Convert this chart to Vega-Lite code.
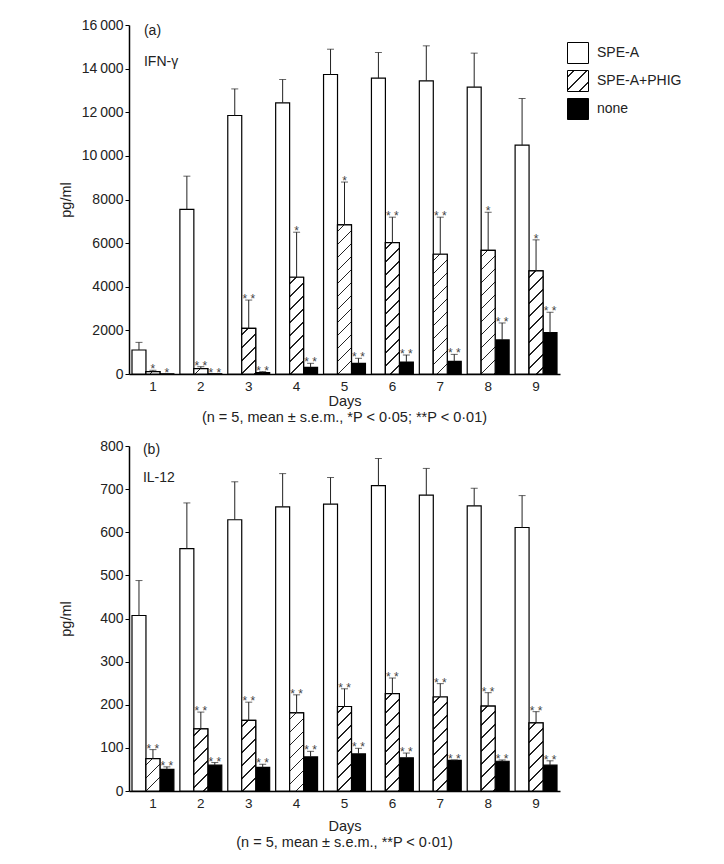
{
  "$schema": "https://vega.github.io/schema/vega-lite/v6.json",
  "padding": {"left": 58, "top": 18, "right": 5, "bottom": 5},
  "spacing": 14,
  "params": [
    {"name": "hatchStops", "value": [
      {"offset": 0, "color": "white"},
      {"offset": 0.03373, "color": "white"}, {"offset": 0.03373, "color": "#222"}, {"offset": 0.04319, "color": "#222"}, {"offset": 0.04319, "color": "white"},
      {"offset": 0.11065, "color": "white"}, {"offset": 0.11065, "color": "#222"}, {"offset": 0.12011, "color": "#222"}, {"offset": 0.12011, "color": "white"},
      {"offset": 0.18758, "color": "white"}, {"offset": 0.18758, "color": "#222"}, {"offset": 0.19704, "color": "#222"}, {"offset": 0.19704, "color": "white"},
      {"offset": 0.2645, "color": "white"}, {"offset": 0.2645, "color": "#222"}, {"offset": 0.27396, "color": "#222"}, {"offset": 0.27396, "color": "white"},
      {"offset": 0.34142, "color": "white"}, {"offset": 0.34142, "color": "#222"}, {"offset": 0.35088, "color": "#222"}, {"offset": 0.35088, "color": "white"},
      {"offset": 0.41835, "color": "white"}, {"offset": 0.41835, "color": "#222"}, {"offset": 0.42781, "color": "#222"}, {"offset": 0.42781, "color": "white"},
      {"offset": 0.49527, "color": "white"}, {"offset": 0.49527, "color": "#222"}, {"offset": 0.50473, "color": "#222"}, {"offset": 0.50473, "color": "white"},
      {"offset": 0.57219, "color": "white"}, {"offset": 0.57219, "color": "#222"}, {"offset": 0.58165, "color": "#222"}, {"offset": 0.58165, "color": "white"},
      {"offset": 0.64912, "color": "white"}, {"offset": 0.64912, "color": "#222"}, {"offset": 0.65858, "color": "#222"}, {"offset": 0.65858, "color": "white"},
      {"offset": 0.72604, "color": "white"}, {"offset": 0.72604, "color": "#222"}, {"offset": 0.7355, "color": "#222"}, {"offset": 0.7355, "color": "white"},
      {"offset": 0.80296, "color": "white"}, {"offset": 0.80296, "color": "#222"}, {"offset": 0.81242, "color": "#222"}, {"offset": 0.81242, "color": "white"},
      {"offset": 0.87989, "color": "white"}, {"offset": 0.87989, "color": "#222"}, {"offset": 0.88935, "color": "#222"}, {"offset": 0.88935, "color": "white"},
      {"offset": 0.95681, "color": "white"}, {"offset": 0.95681, "color": "#222"}, {"offset": 0.96627, "color": "#222"}, {"offset": 0.96627, "color": "white"},
      {"offset": 1, "color": "white"}
    ]}
  ],
  "datasets": {
    "ifn": [
      {"day": "1", "series": "SPE-A", "mean": 1100, "upper": 1450, "sig": ""},
      {"day": "1", "series": "SPE-A+PHIG", "mean": 110, "upper": 170, "sig": "*"},
      {"day": "1", "series": "none", "mean": 10, "upper": 20, "sig": "*"},
      {"day": "2", "series": "SPE-A", "mean": 7550, "upper": 9070, "sig": ""},
      {"day": "2", "series": "SPE-A+PHIG", "mean": 245, "upper": 335, "sig": "**"},
      {"day": "2", "series": "none", "mean": 10, "upper": 20, "sig": "**"},
      {"day": "3", "series": "SPE-A", "mean": 11850, "upper": 13070, "sig": ""},
      {"day": "3", "series": "SPE-A+PHIG", "mean": 2095, "upper": 3390, "sig": "**"},
      {"day": "3", "series": "none", "mean": 60, "upper": 110, "sig": "**"},
      {"day": "4", "series": "SPE-A", "mean": 12430, "upper": 13500, "sig": ""},
      {"day": "4", "series": "SPE-A+PHIG", "mean": 4435, "upper": 6500, "sig": "*"},
      {"day": "4", "series": "none", "mean": 307, "upper": 490, "sig": "**"},
      {"day": "5", "series": "SPE-A", "mean": 13730, "upper": 14890, "sig": ""},
      {"day": "5", "series": "SPE-A+PHIG", "mean": 6835, "upper": 8800, "sig": "*"},
      {"day": "5", "series": "none", "mean": 490, "upper": 720, "sig": "**"},
      {"day": "6", "series": "SPE-A", "mean": 13560, "upper": 14740, "sig": ""},
      {"day": "6", "series": "SPE-A+PHIG", "mean": 6025, "upper": 7190, "sig": "**"},
      {"day": "6", "series": "none", "mean": 550, "upper": 870, "sig": "**"},
      {"day": "7", "series": "SPE-A", "mean": 13440, "upper": 15045, "sig": ""},
      {"day": "7", "series": "SPE-A+PHIG", "mean": 5490, "upper": 7190, "sig": "**"},
      {"day": "7", "series": "none", "mean": 580, "upper": 900, "sig": "**"},
      {"day": "8", "series": "SPE-A", "mean": 13150, "upper": 14710, "sig": ""},
      {"day": "8", "series": "SPE-A+PHIG", "mean": 5670, "upper": 7415, "sig": "*"},
      {"day": "8", "series": "none", "mean": 1560, "upper": 2340, "sig": "**"},
      {"day": "9", "series": "SPE-A", "mean": 10490, "upper": 12630, "sig": ""},
      {"day": "9", "series": "SPE-A+PHIG", "mean": 4725, "upper": 6150, "sig": "*"},
      {"day": "9", "series": "none", "mean": 1895, "upper": 2830, "sig": "**"}
    ],
    "il12": [
      {"day": "1", "series": "SPE-A", "mean": 407, "upper": 488, "sig": ""},
      {"day": "1", "series": "SPE-A+PHIG", "mean": 75, "upper": 96, "sig": "**"},
      {"day": "1", "series": "none", "mean": 50, "upper": 56, "sig": "**"},
      {"day": "2", "series": "SPE-A", "mean": 562, "upper": 668, "sig": ""},
      {"day": "2", "series": "SPE-A+PHIG", "mean": 144, "upper": 183, "sig": "**"},
      {"day": "2", "series": "none", "mean": 60, "upper": 66, "sig": "**"},
      {"day": "3", "series": "SPE-A", "mean": 629, "upper": 717, "sig": ""},
      {"day": "3", "series": "SPE-A+PHIG", "mean": 164, "upper": 206, "sig": "**"},
      {"day": "3", "series": "none", "mean": 55, "upper": 62, "sig": "**"},
      {"day": "4", "series": "SPE-A", "mean": 659, "upper": 736, "sig": ""},
      {"day": "4", "series": "SPE-A+PHIG", "mean": 181, "upper": 223, "sig": "**"},
      {"day": "4", "series": "none", "mean": 79, "upper": 92, "sig": "**"},
      {"day": "5", "series": "SPE-A", "mean": 665, "upper": 727, "sig": ""},
      {"day": "5", "series": "SPE-A+PHIG", "mean": 196, "upper": 237, "sig": "**"},
      {"day": "5", "series": "none", "mean": 86, "upper": 99, "sig": "**"},
      {"day": "6", "series": "SPE-A", "mean": 708, "upper": 771, "sig": ""},
      {"day": "6", "series": "SPE-A+PHIG", "mean": 226, "upper": 262, "sig": "**"},
      {"day": "6", "series": "none", "mean": 77, "upper": 88, "sig": "**"},
      {"day": "7", "series": "SPE-A", "mean": 686, "upper": 748, "sig": ""},
      {"day": "7", "series": "SPE-A+PHIG", "mean": 218, "upper": 249, "sig": "**"},
      {"day": "7", "series": "none", "mean": 71, "upper": 72, "sig": "**"},
      {"day": "8", "series": "SPE-A", "mean": 661, "upper": 702, "sig": ""},
      {"day": "8", "series": "SPE-A+PHIG", "mean": 197, "upper": 228, "sig": "**"},
      {"day": "8", "series": "none", "mean": 69, "upper": 72, "sig": "**"},
      {"day": "9", "series": "SPE-A", "mean": 611, "upper": 685, "sig": ""},
      {"day": "9", "series": "SPE-A+PHIG", "mean": 158, "upper": 184, "sig": "**"},
      {"day": "9", "series": "none", "mean": 60, "upper": 70, "sig": "**"}
    ]
  },
  "resolve": {"scale": {"fill": "independent"}, "legend": {"fill": "independent"}},
  "config": {
    "font": "Liberation Sans",
    "view": {"stroke": null},
    "axis": {"domainColor": "black", "domainWidth": 1.5, "labelColor": "#222", "titleColor": "#222", "labelFont": "Liberation Sans", "titleFont": "Liberation Sans", "grid": false, "tickColor": "black", "titleFontWeight": "normal"},
    "axisX": {"ticks": false, "labelAngle": 0, "labelFontSize": 13.5, "titleFontSize": 14.5},
    "axisY": {"tickSize": 4, "labelFontSize": 14, "titleFontSize": 14.5, "labelPadding": 2, "titleX": -63, "titleBaseline": "middle"},
    "title": {"fontSize": 14.5, "fontWeight": "normal", "color": "#222", "font": "Liberation Sans"},
    "text": {"font": "Liberation Sans"}
  },
  "vconcat": [
    {
      "width": 431,
      "height": 349,
      "data": {"name": "ifn"},
      "title": {"text": "(n = 5, mean ± s.e.m., *P < 0·05; **P < 0·01)", "orient": "bottom", "anchor": "middle", "offset": 3},
      "layer": [
        {
          "mark": {"type": "bar", "stroke": "black", "strokeWidth": 1.2},
          "encoding": {
            "x": {"field": "day", "type": "ordinal", "scale": {"paddingInner": 0.125, "paddingOuter": 0.0625}, "axis": {"title": "Days", "titlePadding": 2, "labelPadding": 5}},
            "xOffset": {"field": "series", "type": "nominal", "scale": {"domain": ["SPE-A", "SPE-A+PHIG", "none"], "paddingInner": 0, "paddingOuter": 0}},
            "y": {"field": "mean", "type": "quantitative", "scale": {"domain": [0, 16000], "nice": false}, "axis": {"title": "pg/ml", "values": [0, 2000, 4000, 6000, 8000, 10000, 12000, 14000, 16000], "labelExpr": "datum.value >= 10000 ? replace(format(datum.value, ','), ',', '\u2009') : format(datum.value, 'd')"}},
            "fill": {"field": "series", "type": "nominal", "scale": {"domain": ["SPE-A", "SPE-A+PHIG", "none"], "range": ["white", {"expr": "{gradient: 'linear', x1: 0, y1: 0, x2: 4.024, y2: 4.024, stops: hatchStops}"}, "black"]},
              "legend": {"orient": "none", "legendX": 438, "legendY": 17, "title": null, "padding": 0, "symbolType": "square", "symbolSize": 441, "symbolStrokeColor": "black", "symbolStrokeWidth": 1, "labelFontSize": 14, "labelColor": "#222", "labelFont": "Liberation Sans", "labelOffset": 8, "rowPadding": 2}}
          }
        },
        {
          "transform": [{"filter": "datum.series === 'SPE-A+PHIG'"}],
          "mark": {"type": "bar", "stroke": "black", "strokeWidth": 1.2, "fill": {"expr": "{gradient: 'linear', x1: 0, y1: 0, x2: 2366/(196+pow(datum.mean*0.0218125,2)), y2: 169*datum.mean*0.0218125/(196+pow(datum.mean*0.0218125,2)), stops: hatchStops}"}},
          "encoding": {
            "x": {"field": "day", "type": "ordinal"},
            "xOffset": {"field": "series", "type": "nominal"},
            "y": {"field": "mean", "type": "quantitative"}
          }
        },
        {
          "mark": {"type": "rule", "color": "#222", "strokeWidth": 1},
          "encoding": {
            "x": {"field": "day", "type": "ordinal"},
            "xOffset": {"field": "series", "type": "nominal"},
            "y": {"field": "mean", "type": "quantitative"},
            "y2": {"field": "upper"}
          }
        },
        {
          "mark": {"type": "tick", "color": "#222", "size": 7, "thickness": 1},
          "encoding": {
            "x": {"field": "day", "type": "ordinal"},
            "xOffset": {"field": "series", "type": "nominal"},
            "y": {"field": "upper", "type": "quantitative"}
          }
        },
        {
          "transform": [{"calculate": "replace(datum.sig, '**', '* *')", "as": "starLabel"}],
          "mark": {"type": "text", "fontSize": 12, "color": "#444", "baseline": "alphabetic", "dy": 3},
          "encoding": {
            "x": {"field": "day", "type": "ordinal"},
            "xOffset": {"field": "series", "type": "nominal"},
            "y": {"field": "upper", "type": "quantitative"},
            "text": {"field": "starLabel"}
          }
        },
        {
          "data": {"values": [{"day": "1", "v": 15725, "label": "(a)"}, {"day": "1", "v": 14300, "label": "IFN-γ"}]},
          "mark": {"type": "text", "fontSize": 14, "color": "#222", "align": "left", "baseline": "middle", "dx": -9},
          "encoding": {
            "x": {"field": "day", "type": "ordinal"},
            "y": {"field": "v", "type": "quantitative"},
            "text": {"field": "label"}
          }
        }
      ]
    },
    {
      "width": 431,
      "height": 345,
      "data": {"name": "il12"},
      "title": {"text": "(n = 5, mean ± s.e.m., **P < 0·01)", "orient": "bottom", "anchor": "middle", "offset": 3},
      "layer": [
        {
          "mark": {"type": "bar", "stroke": "black", "strokeWidth": 1.2},
          "encoding": {
            "x": {"field": "day", "type": "ordinal", "scale": {"paddingInner": 0.125, "paddingOuter": 0.0625}, "axis": {"title": "Days", "titlePadding": 10, "labelPadding": 5}},
            "xOffset": {"field": "series", "type": "nominal", "scale": {"domain": ["SPE-A", "SPE-A+PHIG", "none"], "paddingInner": 0, "paddingOuter": 0}},
            "y": {"field": "mean", "type": "quantitative", "scale": {"domain": [0, 800], "nice": false}, "axis": {"title": "pg/ml", "values": [0, 100, 200, 300, 400, 500, 600, 700, 800]}},
            "fill": {"field": "series", "type": "nominal", "scale": {"domain": ["SPE-A", "SPE-A+PHIG", "none"], "range": ["white", "white", "black"]}, "legend": null}
          }
        },
        {
          "transform": [{"filter": "datum.series === 'SPE-A+PHIG'"}],
          "mark": {"type": "bar", "stroke": "black", "strokeWidth": 1.2, "fill": {"expr": "{gradient: 'linear', x1: 0, y1: 0, x2: 2366/(196+pow(datum.mean*0.43125,2)), y2: 169*datum.mean*0.43125/(196+pow(datum.mean*0.43125,2)), stops: hatchStops}"}},
          "encoding": {
            "x": {"field": "day", "type": "ordinal"},
            "xOffset": {"field": "series", "type": "nominal"},
            "y": {"field": "mean", "type": "quantitative"}
          }
        },
        {
          "mark": {"type": "rule", "color": "#222", "strokeWidth": 1},
          "encoding": {
            "x": {"field": "day", "type": "ordinal"},
            "xOffset": {"field": "series", "type": "nominal"},
            "y": {"field": "mean", "type": "quantitative"},
            "y2": {"field": "upper"}
          }
        },
        {
          "mark": {"type": "tick", "color": "#222", "size": 7, "thickness": 1},
          "encoding": {
            "x": {"field": "day", "type": "ordinal"},
            "xOffset": {"field": "series", "type": "nominal"},
            "y": {"field": "upper", "type": "quantitative"}
          }
        },
        {
          "transform": [{"calculate": "replace(datum.sig, '**', '* *')", "as": "starLabel"}],
          "mark": {"type": "text", "fontSize": 12, "color": "#444", "baseline": "alphabetic", "dy": 3},
          "encoding": {
            "x": {"field": "day", "type": "ordinal"},
            "xOffset": {"field": "series", "type": "nominal"},
            "y": {"field": "upper", "type": "quantitative"},
            "text": {"field": "starLabel"}
          }
        },
        {
          "data": {"values": [{"day": "1", "v": 790, "label": "(b)"}, {"day": "1", "v": 725, "label": "IL-12"}]},
          "mark": {"type": "text", "fontSize": 14, "color": "#222", "align": "left", "baseline": "middle", "dx": -10},
          "encoding": {
            "x": {"field": "day", "type": "ordinal"},
            "y": {"field": "v", "type": "quantitative"},
            "text": {"field": "label"}
          }
        }
      ]
    }
  ]
}
